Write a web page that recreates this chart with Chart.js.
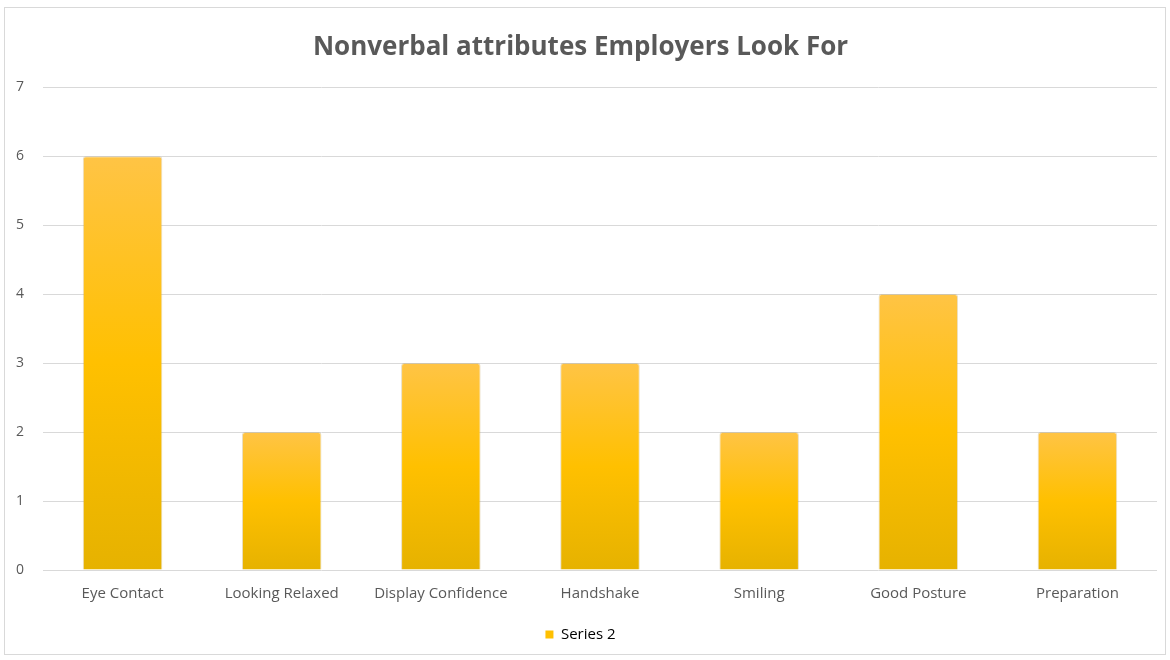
<!DOCTYPE html>
<html>
<head>
<meta charset="utf-8">
<script src="https://cdn.jsdelivr.net/npm/chart.js@4/dist/chart.umd.min.js"></script>
<style>
  html, body { margin: 0; padding: 0; background: #ffffff; }
  #wrap { position: relative; width: 1170px; height: 660px; }
  #frame {
    position: absolute; left: 4px; top: 7px; width: 1162px; height: 648px;
    border: 1px solid #d9d9d9; box-sizing: border-box;
  }
  canvas { position: absolute; left: 0; top: 0; }
</style>
</head>
<body>
<div id="wrap">
  <div id="frame"></div>
  <canvas id="chart" width="1170" height="660"></canvas>
</div>
<script>
// Chart data
const categories = ['Eye Contact', 'Looking Relaxed', 'Display Confidence', 'Handshake', 'Smiling', 'Good Posture', 'Preparation'];
const series2 = [6, 2, 3, 3, 2, 4, 2];
const yTicks = [0, 1, 2, 3, 4, 5, 6, 7];

const textGray = '#595959';

// Office-style vertical gradient, one per bar
function barGradient(context) {
  const chart = context.chart;
  const yScale = chart.scales.y;
  if (!chart.chartArea || !yScale) {
    return '#FFC000';
  }
  const top = yScale.getPixelForValue(context.raw);
  const bottom = yScale.getPixelForValue(0);
  const g = chart.ctx.createLinearGradient(0, top, 0, bottom);
  g.addColorStop(0, '#FFC445');
  g.addColorStop(0.5, '#FFC000');
  g.addColorStop(1, '#E6B200');
  return g;
}

const ctx = document.getElementById('chart').getContext('2d');
new Chart(ctx, {
  type: 'bar',
  data: {
    labels: categories,
    datasets: [{
      label: 'Series 2',
      data: series2,
      backgroundColor: barGradient,
      borderColor: 'rgba(190, 160, 90, 0.35)',
      borderWidth: 1,
      borderRadius: { topLeft: 3, topRight: 3 },
      borderSkipped: 'bottom',
      categoryPercentage: 1,
      barPercentage: 0.5
    }]
  },
  options: {
    responsive: false,
    animation: false,
    layout: {
      padding: { left: 4, right: 13, top: 7, bottom: 8 }
    },
    plugins: {
      title: {
        display: true,
        text: 'Nonverbal attributes Employers Look For',
        color: textGray,
        font: { family: 'Open Sans', size: 26, weight: 'bold' },
        padding: { top: 25, bottom: 24 }
      },
      legend: {
        display: true,
        position: 'bottom',
        labels: {
          color: textGray,
          boxWidth: 8,
          boxHeight: 8,
          padding: 10,
          font: { family: 'Open Sans', size: 15 },
          generateLabels: () => [{
            text: 'Series 2',
            fillStyle: '#FFC000',
            strokeStyle: '#FFC000',
            lineWidth: 0,
            datasetIndex: 0
          }]
        }
      },
      tooltip: { enabled: false }
    },
    scales: {
      x: {
        afterFit: (scale) => { scale.height = 47; },
        grid: { display: false, drawTicks: false },
        border: { display: false },
        ticks: {
          color: textGray,
          padding: 15,
          font: { family: 'Open Sans', size: 15 }
        }
      },
      y: {
        min: 0,
        max: 7,
        afterFit: (scale) => { scale.width = 39; },
        afterBuildTicks: (scale) => {
          scale.ticks = yTicks.map(v => ({ value: v }));
        },
        grid: { color: '#d9d9d9', drawTicks: false },
        border: { display: false },
        ticks: {
          color: textGray,
          padding: 19,
          font: { family: 'Open Sans', size: 14 }
        }
      }
    }
  }
});
</script>
</body>
</html>
